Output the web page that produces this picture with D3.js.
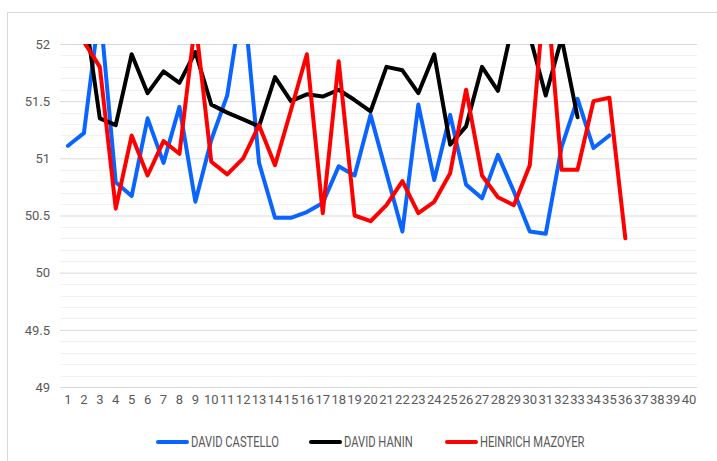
<!DOCTYPE html>
<html>
<head>
<meta charset="utf-8">
<script src="https://cdn.jsdelivr.net/npm/d3@7"></script>
<style>
  body { margin: 0; background: #fff; }
  text { font-family: "Roboto", "Liberation Sans", sans-serif; fill: #595959; }
</style>
</head>
<body>
<div id="chart"></div>
<script>
// categories 1..40 on the x axis
var categories = d3.range(1, 41).map(String);

// series values, index 0 = category 1 (null = no value)
var castello = [51.11, 51.22, 52.32, 50.79, 50.67, 51.35, 50.96, 51.45, 50.62, 51.16,
  51.55, 52.45, 50.96, 50.48, 50.48, 50.53, 50.61, 50.93, 50.85, 51.38,
  50.87, 50.36, 51.47, 50.81, 51.38, 50.77, 50.65, 51.03, 50.71, 50.36,
  50.34, 51.10, 51.52, 51.09, 51.20];
var hanin = [null, 52.33, 51.35, 51.29, 51.91, 51.57, 51.76, 51.66, 51.93, 51.47,
  51.40, 51.34, 51.28, 51.71, 51.50, 51.56, 51.54, 51.60, 51.51, 51.41,
  51.80, 51.77, 51.57, 51.91, 51.12, 51.28, 51.80, 51.59, 52.22, 52.07,
  51.55, 52.05, 51.36];
var mazoyer = [null, 52.02, 51.80, 50.56, 51.20, 50.85, 51.15, 51.04, 52.2, 50.97,
  50.86, 51.00, 51.29, 50.94, 51.42, 51.91, 50.52, 51.85, 50.50, 50.45,
  50.59, 50.80, 50.52, 50.62, 50.87, 51.60, 50.85, 50.66, 50.59, 50.94,
  52.57, 50.90, 50.90, 51.50, 51.53, 50.30];

var seriesNames = ["DAVID CASTELLO", "DAVID HANIN", "HEINRICH MAZOYER"];
var seriesColors = ["#0a64ff", "#000000", "#ff0000"];
var yTicks = [49, 49.5, 50, 50.5, 51, 51.5, 52];

var W = 717, H = 461;
var plot = {left: 60, right: 697, top: 44, bottom: 387};

var svg = d3.select("#chart").append("svg")
  .attr("width", W)
  .attr("height", H);

// chart border
svg.append("rect")
  .attr("x", 7.5).attr("y", 12.5)
  .attr("width", W + 10).attr("height", H + 10)
  .attr("fill", "none")
  .attr("stroke", "#d9d9d9");

var x = d3.scaleBand()
  .domain(categories)
  .range([plot.left, plot.right])
  .padding(0);

var y = d3.scaleLinear()
  .domain([49, 52])
  .range([plot.bottom, plot.top]);

// minor gridlines every 0.1
var minor = d3.range(49, 52.001, 0.1).filter(function(v) {
  return Math.abs(v * 2 - Math.round(v * 2)) > 0.01;
});
svg.append("g").selectAll("line")
  .data(minor)
  .enter().append("line")
    .attr("x1", plot.left).attr("x2", plot.right)
    .attr("y1", function(d) { return Math.round(y(d)) + 0.5; })
    .attr("y2", function(d) { return Math.round(y(d)) + 0.5; })
    .attr("stroke", "#f2f2f2")
    .attr("stroke-width", 1);

// major gridlines + y labels
var yAxis = d3.axisLeft(y).tickValues(yTicks)
  .tickSize(-(plot.right - plot.left))
  .tickPadding(10)
  .tickFormat(d3.format(""));
svg.append("g")
  .attr("transform", "translate(" + plot.left + ",0)")
  .call(yAxis)
  .call(function(g) {
    g.select(".domain").remove();
    g.selectAll(".tick line").attr("stroke", "#d9d9d9");
    g.selectAll(".tick text").style("font-size", "13px").attr("fill", "#595959");
  });

// x labels
var xAxis = d3.axisBottom(x).tickSize(0).tickPadding(8);
svg.append("g")
  .attr("transform", "translate(0," + plot.bottom + ")")
  .call(xAxis)
  .call(function(g) {
    g.select(".domain").remove();
    g.selectAll(".tick text").style("font-size", "13px").attr("fill", "#595959");
  });

svg.append("clipPath").attr("id", "plotclip")
  .append("rect")
  .attr("x", plot.left).attr("y", plot.top)
  .attr("width", plot.right - plot.left)
  .attr("height", plot.bottom - plot.top);

var line = d3.line()
  .defined(function(d) { return d != null; })
  .x(function(d, i) { return x(categories[i]) + x.bandwidth() / 2; })
  .y(function(d) { return y(d); });

var allSeries = [castello, hanin, mazoyer];
svg.append("g")
  .attr("clip-path", "url(#plotclip)")
  .selectAll("path")
  .data(allSeries)
  .enter().append("path")
    .attr("d", line)
    .attr("fill", "none")
    .attr("stroke", function(d, i) { return seriesColors[i]; })
    .attr("stroke-width", 4)
    .attr("stroke-linejoin", "round")
    .attr("stroke-linecap", "round");

// legend (narrow text like the original)
var legendX = [158, 311, 447];
var legend = svg.append("g").selectAll("g")
  .data(seriesNames)
  .enter().append("g")
    .attr("transform", function(d, i) { return "translate(" + legendX[i] + ",442)"; });
legend.append("line")
  .attr("x1", 0).attr("x2", 29)
  .attr("stroke", function(d, i) { return seriesColors[i]; })
  .attr("stroke-width", 4)
  .attr("stroke-linecap", "round");
legend.append("text")
  .attr("transform", "translate(33,0) scale(0.8,1)")
  .attr("dy", "0.35em")
  .style("font-size", "14px")
  .text(function(d) { return d; });
</script>
</body>
</html>
